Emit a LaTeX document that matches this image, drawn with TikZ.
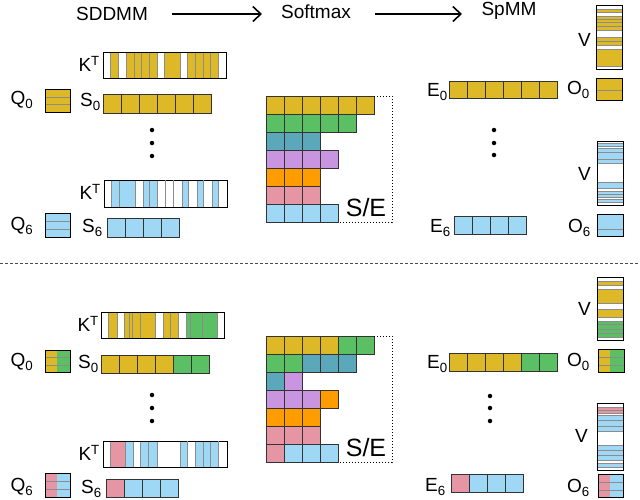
\documentclass[tikz,border=0pt]{standalone}
\usepackage{fontspec}
\setmainfont{Liberation Sans}
\usetikzlibrary{arrows.meta}
\begin{document}
\definecolor{cY}{HTML}{DDB928}
\definecolor{cG}{HTML}{5BBF63}
\definecolor{cT}{HTML}{5AA8BA}
\definecolor{cP}{HTML}{C995E0}
\definecolor{cO}{HTML}{FF9D00}
\definecolor{cK}{HTML}{E595A4}
\definecolor{cB}{HTML}{9ED8F5}
\newcommand\cellrow[5]{\foreach \c [count=\i from 0] in {#5} {\filldraw[fill=\c, draw=black!80, line width=0.7pt] ({#1+\i*#3},#2) rectangle ++(#3,#4);}}
\newcommand\myvbar[5]{\foreach \a/\b/\c in {#5} {\fill[\c] (\a,#3) rectangle (\b,#4);}
  \foreach \a/\b/\c in {#5} {\draw[black!45,line width=0.5pt] (\a,#3) -- (\a,#4) (\b,#3) -- (\b,#4);}
  \draw[line width=1pt] (#1,#3) rectangle (#2,#4);}
\newcommand\myhbar[5]{\foreach \a/\b/\c in {#5} {\fill[\c] (#1,\a) rectangle (#2,\b);}
  \foreach \a/\b/\c in {#5} {\draw[black!45,line width=0.5pt] (#1,\a) -- (#2,\a) (#1,\b) -- (#2,\b);}
  \draw[line width=1pt] (#1,#3) rectangle (#2,#4);}
\begin{tikzpicture}[x=1pt,y=-1pt,
  lab/.style={inner sep=0pt,font=\fontsize{19}{19}\selectfont},
  ll/.style={lab,anchor=east},
  big/.style={inner sep=0pt,font=\fontsize{25}{25}\selectfont},
  arr/.style={->,line width=1.6pt,>={Straight Barb[length=8pt,width=15pt]}},
  dot/.style={circle,fill,inner sep=0pt,minimum size=4.5pt}]
\useasboundingbox (0,0) rectangle (640,499);
% header
\node[lab] (sd) at (112,14) {SDDMM};
\node[lab] (sm) at (316,12) {Softmax};
\node[lab] (sp) at (509,11) {SpMM};
\draw[arr] (172,14) -- (262,14);
\draw[arr] (375,14) -- (462,14);
\draw[black!70,dash pattern=on 2.5pt off 2.5pt,line width=0.8pt] (0,263) -- (640,263);

% ===== TOP =====
\node[ll] at (100,64) {K\textsuperscript{T}};
\myvbar{103}{226}{52}{78}{110/118/cY,126/134/cY,134/141/cY,141/149/cY,149/157/cY,164/180/cY,187/195/cY,195/203/cY,203/210/cY,210/218/cY}
\node[lab] at (22,100) {Q\textsubscript{0}};
\myhbar{45}{70}{89}{112}{89/97/cY,97/104/cY,104/112/cY}
\node[ll] at (101,102) {S\textsubscript{0}};
\cellrow{103}{94}{18}{19}{cY,cY,cY,cY,cY,cY}
\node[dot] at (152,130) {}; \node[dot] at (152,143) {}; \node[dot] at (152,156) {};
\node[ll] at (101,192) {K\textsuperscript{T}};
\myvbar{104}{227}{180}{207}{111/119/cB,119/135/cB,143/149/cB,149/157/cB,182/188/cB,197/203/cB,212/218/cB}
\foreach \x in {165,173,203} \draw[black!45,line width=0.5pt] (\x,180) -- (\x,207);
\node[lab] at (22,226) {Q\textsubscript{6}};
\myhbar{45}{70}{213}{237}{213/221/cB,221/229/cB,229/237/cB}
\node[ll] at (103,228) {S\textsubscript{6}};
\cellrow{107}{218}{18}{19}{cB,cB,cB,cB}
% S/E top
\cellrow{266}{96}{18}{18}{cY,cY,cY,cY,cY,cY}
\cellrow{266}{114}{18}{18}{cG,cG,cG,cG,cG}
\cellrow{266}{132}{18}{18}{cT,cT,cT}
\cellrow{266}{150}{18}{18}{cP,cP,cP,cP}
\cellrow{266}{168}{18}{18}{cO,cO,cO}
\cellrow{266}{186}{18}{18}{cK,cK,cK}
\cellrow{266}{204}{18}{18}{cB,cB,cB,cB}
\draw[dotted,line width=1pt] (374,96) -- (392,96) -- (392,222) -- (340,222);
\node[big] at (366,208) {S/E};
% right top
\node[ll] at (591,40) {V};
\myhbar{596}{622}{5}{69}{9/12/cY,16/19/cY,19/22/cY,22/26/cY,26/30/cY,37/41/cY,41/45/cY,49/66/cY}
\node[ll] at (448,92) {E\textsubscript{0}};
\cellrow{449}{81}{18}{17}{cY,cY,cY,cY,cY,cY}
\node[ll] at (590,90) {O\textsubscript{0}};
\myhbar{596}{622}{78}{100}{78/90/cY,90/100/cY}
\node[dot] at (494,130) {}; \node[dot] at (494,143) {}; \node[dot] at (494,155) {};
\node[ll] at (591,174) {V};
\myhbar{597}{623}{141}{205}{143/146/cB,148/152/cB,152/159/cB,159/163/cB,182/188/cB,191/194/cB,194/197/cB,199/202/cB}
\node[ll] at (451,228) {E\textsubscript{6}};
\cellrow{454}{216}{18}{18}{cB,cB,cB,cB}
\node[ll] at (591,228) {O\textsubscript{6}};
\myhbar{597}{623}{214}{236}{214/229/cB,229/236/cB}

% ===== BOTTOM =====
\node[ll] at (99,324) {K\textsuperscript{T}};
\myvbar{101}{224}{312}{338}{108/117/cY,124/129/cY,129/132/cY,132/140/cY,140/155/cY,163/170/cY,170/178/cY,186/190/cG,190/202/cG,202/217/cG}
\node[lab] at (22,362) {Q\textsubscript{0}};
\fill[cY] (45,350) rectangle (57,372); \fill[cG] (57,350) rectangle (70,372);
\draw[black!45,line width=0.5pt] (45,357) -- (70,357) (45,365) -- (70,365);
\draw[line width=1pt] (45,350) rectangle (70,372);
\node[ll] at (99,364) {S\textsubscript{0}};
\cellrow{101}{355}{18}{18}{cY,cY,cY,cY,cG,cG}
\node[dot] at (152,395) {}; \node[dot] at (152,408) {}; \node[dot] at (152,421) {};
\node[ll] at (100,453) {K\textsuperscript{T}};
\myvbar{103}{227}{441}{467}{110/125/cK,125/133/cB,140/148/cB,148/157/cB,180/187/cB,195/203/cB,203/210/cB,210/218/cB}
\foreach \x in {187,218} \draw[black!45,line width=0.5pt] (\x,441) -- (\x,467);
\node[lab] at (22,487) {Q\textsubscript{6}};
\fill[cK] (45,473) rectangle (57,497); \fill[cB] (57,473) rectangle (70,497);
\draw[black!45,line width=0.5pt] (45,481) -- (70,481) (45,489) -- (70,489);
\draw[line width=1pt] (45,473) rectangle (70,497);
\node[ll] at (102,489) {S\textsubscript{6}};
\cellrow{106}{479}{18}{18}{cK,cB,cB,cB}
% S/E bottom
\cellrow{266}{336}{18}{18}{cY,cY,cY,cY,cG,cG}
\cellrow{266}{354}{18}{18}{cG,cG,cT,cT,cT}
\cellrow{266}{372}{18}{18}{cT,cP}
\cellrow{266}{390}{18}{18}{cP,cP,cP,cO}
\cellrow{266}{408}{18}{18}{cO,cO,cO}
\cellrow{266}{426}{18}{18}{cK,cK,cK}
\cellrow{266}{444}{18}{18}{cK,cB,cB,cB}
\draw[dotted,line width=1pt] (374,336) -- (392,336) -- (392,462) -- (340,462);
\node[big] at (366,448) {S/E};
% right bottom
\node[ll] at (591,309) {V};
\myhbar{597}{623}{277}{340}{281/285/cY,289/303/cY,309/317/cY,321/324/cG,324/329/cG,329/333/cG,333/337/cG}
\node[ll] at (448,364) {E\textsubscript{0}};
\cellrow{449}{353}{18}{18}{cY,cY,cY,cY,cG,cG}
\node[ll] at (590,362) {O\textsubscript{0}};
\fill[cY] (598,349) rectangle (610,372); \fill[cG] (610,349) rectangle (624,372);
\draw[black!45,line width=0.5pt] (598,357) -- (624,357) (598,365) -- (624,365);
\draw[line width=1pt] (598,349) rectangle (624,372);
\node[dot] at (490,396) {}; \node[dot] at (490,408) {}; \node[dot] at (490,421) {};
\node[ll] at (588,436) {V};
\myhbar{597}{623}{403}{470}{407/410/cK,410/413/cK,415/420/cB,420/426/cB,426/431/cB,445/450/cB,450/455/cB,455/460/cB,463/467/cB}
\node[ll] at (446,487) {E\textsubscript{6}};
\cellrow{451}{474}{18}{18}{cK,cB,cB,cB}
\node[ll] at (590,488) {O\textsubscript{6}};
\fill[cK] (598,474) rectangle (610,497); \fill[cB] (610,474) rectangle (623,497);
\draw[black!45,line width=0.5pt] (598,482) -- (623,482) (598,490) -- (623,490);
\draw[line width=1pt] (598,474) rectangle (623,497);
\end{tikzpicture}
\end{document}
